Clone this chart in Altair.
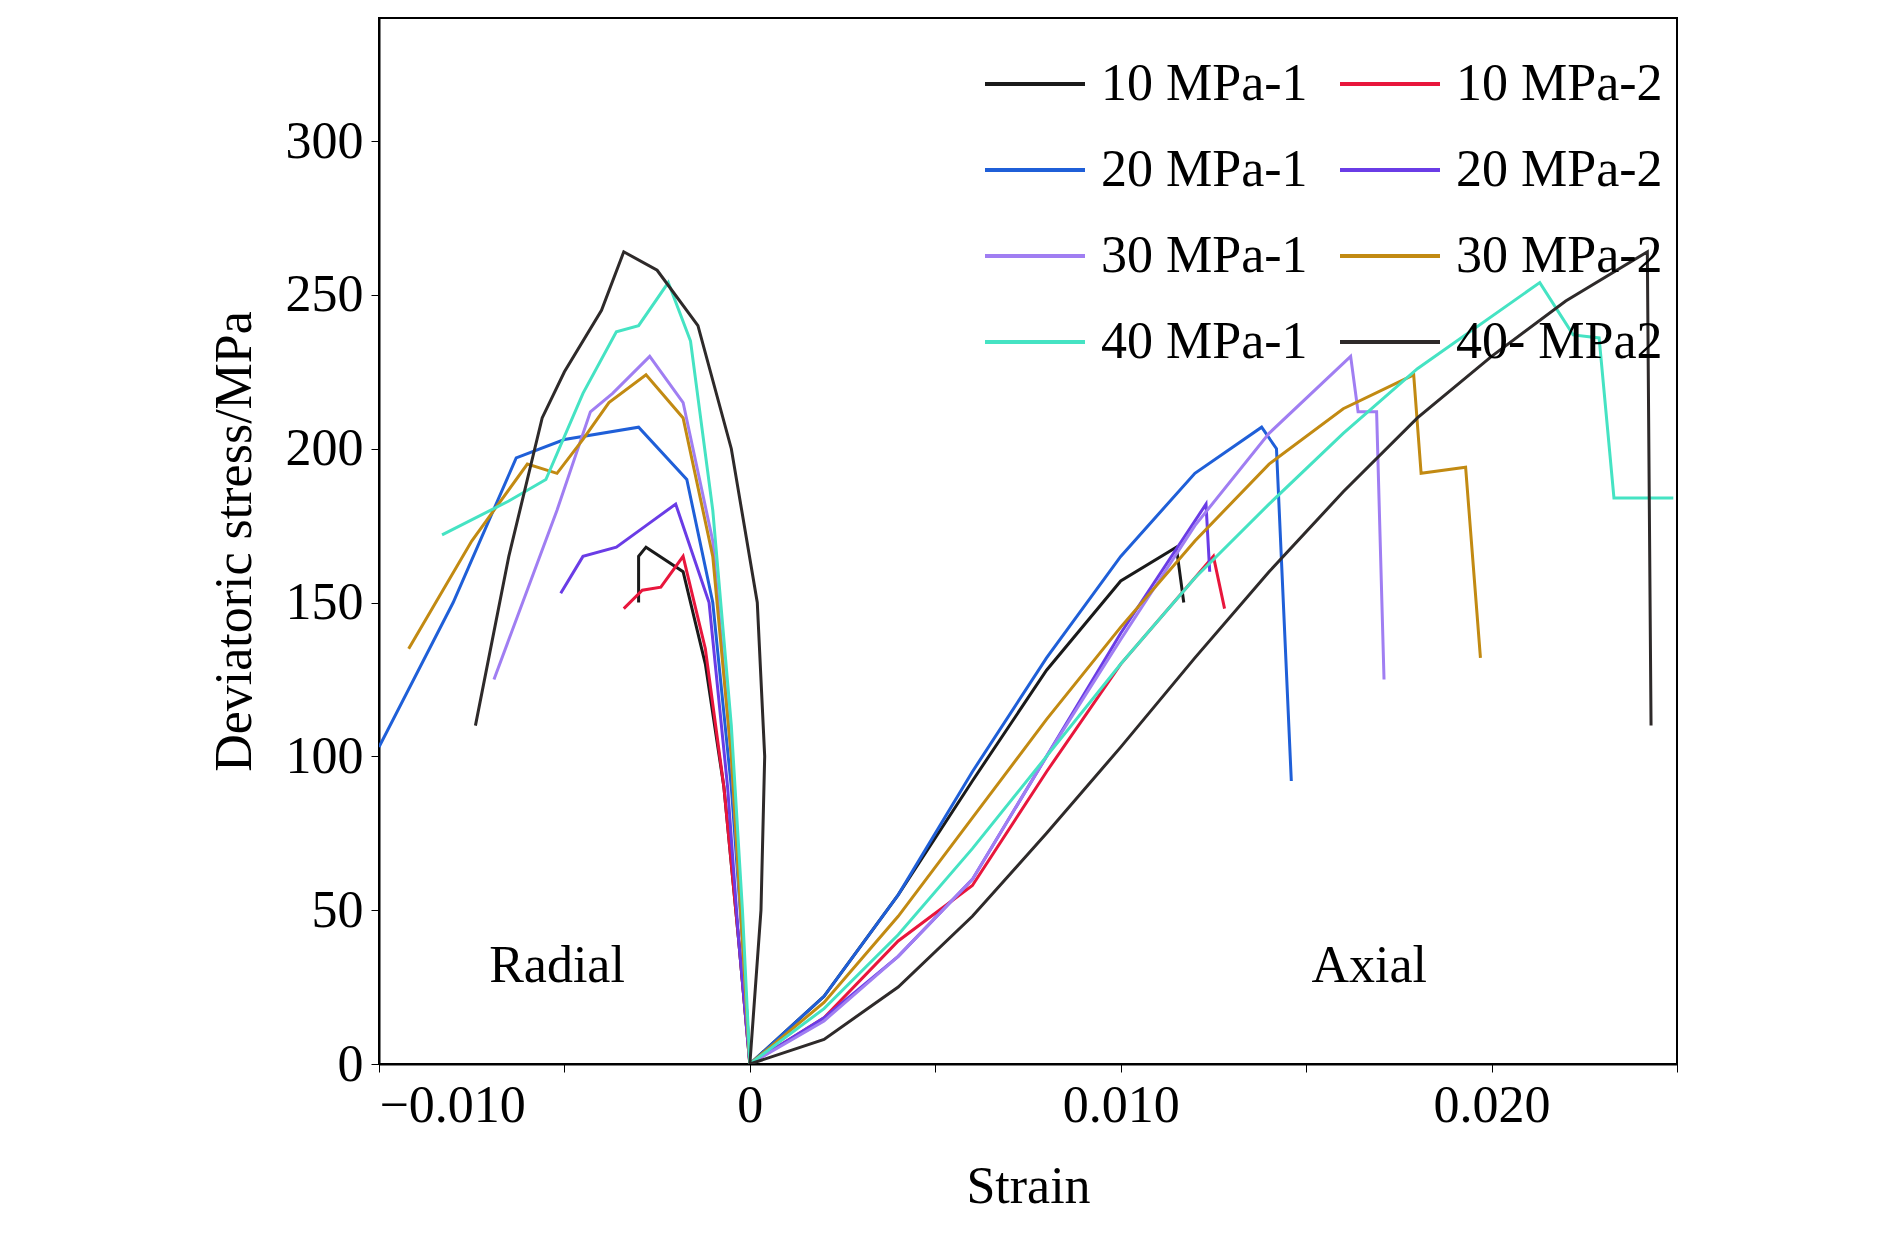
import altair as alt
import pandas as pd

tests = ["10 MPa-1", "10 MPa-2", "20 MPa-1", "20 MPa-2",
         "30 MPa-1", "30 MPa-2", "40 MPa-1", "40- MPa2"]
colors = ["#1a1a1a", "#e8163c", "#1f5fd8", "#6a3ce6",
          "#a07ef2", "#c28a12", "#45e3c3", "#2e2a2a"]
# legend fills column by column; this order gives row pairs as in the figure
legend_order = [0, 2, 4, 6, 1, 3, 5, 7]

# (strain, stress)
radial = {
    "10 MPa-1": [(0, 0), (-0.0003, 40), (-0.0007, 90), (-0.0012, 130), (-0.0018, 160),
                 (-0.0028, 168), (-0.0030, 165), (-0.0030, 150)],
    "10 MPa-2": [(0, 0), (-0.0003, 40), (-0.0007, 90), (-0.0012, 135), (-0.0018, 165),
                 (-0.0024, 155), (-0.0029, 154), (-0.0034, 148)],
    "20 MPa-1": [(0, 0), (-0.0002, 40), (-0.0005, 90), (-0.0010, 150), (-0.0017, 190),
                 (-0.0030, 207), (-0.0050, 203), (-0.0063, 197), (-0.0080, 150), (-0.0100, 103)],
    "20 MPa-2": [(0, 0), (-0.0003, 40), (-0.0006, 90), (-0.0011, 150), (-0.0020, 182),
                 (-0.0028, 175), (-0.0036, 168), (-0.0045, 165), (-0.0051, 153)],
    "30 MPa-1": [(0, 0), (-0.0002, 40), (-0.0005, 100), (-0.0010, 170), (-0.0018, 215),
                 (-0.0027, 230), (-0.0037, 218), (-0.0043, 212), (-0.0052, 180), (-0.0069, 125)],
    "30 MPa-2": [(0, 0), (-0.0002, 40), (-0.0005, 100), (-0.0010, 165), (-0.0018, 210),
                 (-0.0028, 224), (-0.0038, 215), (-0.0045, 203), (-0.0052, 192), (-0.0060, 195),
                 (-0.0075, 170), (-0.0092, 135)],
    "40 MPa-1": [(0, 0), (-0.0002, 50), (-0.0005, 110), (-0.0010, 180), (-0.0016, 235),
                 (-0.0022, 254), (-0.0030, 240), (-0.0036, 238), (-0.0045, 218), (-0.0055, 190),
                 (-0.0065, 183), (-0.0083, 172)],
    "40- MPa2": [(0, 0), (0.0003, 50), (0.0004, 100), (0.0002, 150), (-0.0005, 200),
                 (-0.0014, 240), (-0.0025, 258), (-0.0034, 264), (-0.0040, 245),
                 (-0.0050, 225), (-0.0056, 210), (-0.0065, 165), (-0.0074, 110)],
}
axial = {
    "10 MPa-1": [(0, 0), (0.002, 22), (0.004, 55), (0.006, 92), (0.008, 128), (0.010, 157),
                 (0.0115, 168), (0.0117, 150)],
    "10 MPa-2": [(0, 0), (0.002, 15), (0.004, 40), (0.006, 58), (0.008, 95), (0.010, 130),
                 (0.0125, 165), (0.0128, 148)],
    "20 MPa-1": [(0, 0), (0.002, 22), (0.004, 55), (0.006, 95), (0.008, 132), (0.010, 165),
                 (0.012, 192), (0.0138, 207), (0.0142, 200), (0.0146, 92)],
    "20 MPa-2": [(0, 0), (0.002, 15), (0.004, 35), (0.006, 60), (0.008, 100), (0.010, 140),
                 (0.0123, 182), (0.0124, 160)],
    "30 MPa-1": [(0, 0), (0.002, 14), (0.004, 35), (0.006, 60), (0.008, 100), (0.010, 138),
                 (0.012, 175), (0.014, 205), (0.0162, 230), (0.0164, 212), (0.0169, 212),
                 (0.0171, 125)],
    "30 MPa-2": [(0, 0), (0.002, 20), (0.004, 48), (0.006, 80), (0.008, 112), (0.010, 142),
                 (0.012, 170), (0.014, 195), (0.016, 213), (0.0179, 224), (0.0181, 192),
                 (0.0193, 194), (0.0197, 132)],
    "40 MPa-1": [(0, 0), (0.002, 18), (0.004, 42), (0.006, 70), (0.008, 100), (0.010, 130),
                 (0.012, 158), (0.014, 182), (0.016, 205), (0.018, 226), (0.0213, 254),
                 (0.0222, 237), (0.0229, 236), (0.0233, 184), (0.0249, 184)],
    "40- MPa2": [(0, 0), (0.002, 8), (0.004, 25), (0.006, 48), (0.008, 75), (0.010, 103),
                 (0.012, 132), (0.014, 160), (0.016, 186), (0.018, 210), (0.020, 230),
                 (0.022, 248), (0.0242, 264), (0.0243, 110)],
}

rows = []
for t in tests:
    for branch, src in (("radial", radial), ("axial", axial)):
        for i, (s, v) in enumerate(src[t]):
            rows.append({"test": t, "branch": branch, "i": i, "strain": s, "stress": v})
df = pd.DataFrame(rows)

dom = [tests[k] for k in legend_order]
rng = [colors[k] for k in legend_order]

font = "Liberation Serif"

lines = alt.Chart(df).mark_line(strokeWidth=3, clip=True).encode(
    x=alt.X("strain:Q", title="Strain", scale=alt.Scale(domain=[-0.01, 0.025], nice=False),
            axis=alt.Axis(values=[-0.01, -0.005, 0, 0.005, 0.01, 0.015, 0.02, 0.025],
                          labelExpr="datum.value == 0 ? '0' : format(datum.value, '.3f')",
                          grid=False, tickSize=8, labelPadding=8, titlePadding=30)),
    y=alt.Y("stress:Q", title="Deviatoric stress/MPa",
            scale=alt.Scale(domain=[0, 340], nice=False),
            axis=alt.Axis(values=[0, 50, 100, 150, 200, 250, 300], grid=False,
                          tickSize=8, labelPadding=8, titlePadding=24)),
    color=alt.Color("test:N", scale=alt.Scale(domain=dom, range=rng),
                    legend=alt.Legend(title=None, orient="top-right", columns=2,
                                      symbolType="stroke", symbolSize=10000,
                                      symbolStrokeWidth=4, labelFontSize=52,
                                      labelFont=font, rowPadding=8, columnPadding=24,
                                      labelLimit=500, offset=14, labelOffset=14)),
    detail="branch:N",
    order="i:Q",
)

labels = pd.DataFrame({"strain": [-0.0052, 0.0167], "stress": [32, 32],
                       "name": ["Radial", "Axial"]})
text = alt.Chart(labels).mark_text(fontSize=52, font=font).encode(
    x="strain:Q", y="stress:Q", text="name:N")

chart = (lines + text).properties(
    width=1298, height=1046,
    padding={"left": 200, "top": 10, "right": 20, "bottom": 10},
).configure_axis(
    labelFont=font, titleFont=font, labelFontSize=52, titleFontSize=52,
    titleFontWeight="normal", labelColor="black", titleColor="black",
    domainColor="black", tickColor="black", domainWidth=2,
).configure_view(stroke="black", strokeWidth=2)

chart.save("out.html", embed_options={"renderer": "svg", "actions": False})
